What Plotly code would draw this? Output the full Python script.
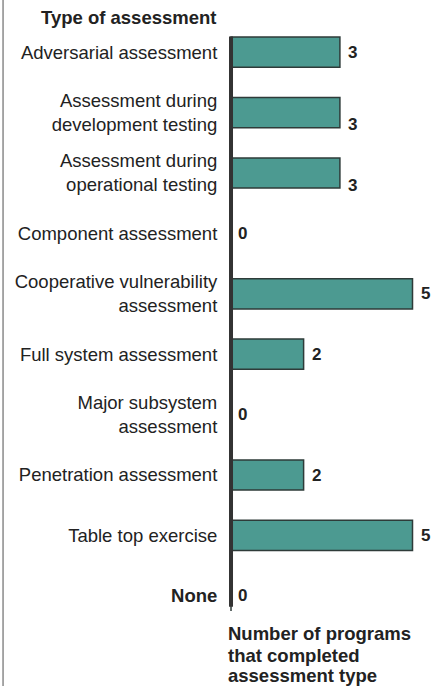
import plotly.graph_objects as go

CATEGORIES = [
    "Adversarial assessment",
    "Assessment during development testing",
    "Assessment during operational testing",
    "Component assessment",
    "Cooperative vulnerability assessment",
    "Full system assessment",
    "Major subsystem assessment",
    "Penetration assessment",
    "Table top exercise",
    "None",
]
TICK_LABELS = [
    "Adversarial assessment",
    "Assessment during<br>development testing",
    "Assessment during<br>operational testing",
    "Component assessment",
    "Cooperative vulnerability<br>assessment",
    "Full system assessment",
    "Major subsystem<br>assessment",
    "Penetration assessment",
    "Table top exercise",
    "<b>None</b>",
]
PROGRAM_COUNTS = [3, 3, 3, 0, 5, 2, 0, 2, 5, 0]
X_TITLE_LINES = ["Number of programs", "that completed", "assessment type"]

BAR_COLOR = "#4C9A91"
OUTLINE_COLOR = "#2E3B39"
TEXT_COLOR = "#222222"
FONT = "Liberation Sans, Arial, sans-serif"

# the value labels of these two rows sit on the second text line
LABEL_NUDGE = {
    "Assessment during development testing": -12,
    "Assessment during operational testing": -12,
}

fig = go.Figure(
    go.Bar(
        x=PROGRAM_COUNTS,
        y=CATEGORIES,
        orientation="h",
        marker=dict(color=BAR_COLOR, line=dict(color=OUTLINE_COLOR, width=1.5)),
        hoverinfo="skip",
    )
)

for cat, val in zip(CATEGORIES, PROGRAM_COUNTS):
    fig.add_annotation(
        x=val,
        y=cat,
        text=f"<b>{val}</b>",
        showarrow=False,
        xanchor="left",
        xshift=5 if val == 0 else 6,
        yshift=LABEL_NUDGE.get(cat, 0),
        font=dict(size=17, color=TEXT_COLOR, family=FONT),
    )

fig.add_annotation(
    xref="paper", yref="paper", x=-0.037, y=1.0, yanchor="bottom", xanchor="right",
    yshift=-8,
    text="<b>Type of assessment</b>", showarrow=False,
    font=dict(size=18.5, color=TEXT_COLOR, family=FONT),
)
# x-axis title, one annotation per line so the line spacing can be tighter
for i, line in enumerate(X_TITLE_LINES):
    fig.add_annotation(
        xref="paper", yref="paper", x=0.0, y=0.0, yanchor="top", xanchor="left",
        yshift=5 - 22 * i if i < 2 else 5 - 42,
        text=f"<b>{line}</b>", showarrow=False,
        font=dict(size=18.5, color=TEXT_COLOR, family=FONT),
    )

# vertical axis line
fig.add_shape(type="line", xref="x", yref="y", x0=0, x1=0, y0=-0.26, y1=9.18,
              line=dict(color="#333333", width=4))
# left frame edge
fig.add_shape(type="line", xref="paper", yref="paper", x0=-1.018, x1=-1.018, y0=-0.11, y1=1.05,
              line=dict(color="#8a8a8a", width=1.5))

fig.update_layout(
    width=445,
    height=686,
    margin=dict(l=226, r=0, t=22, b=60),
    paper_bgcolor="white",
    plot_bgcolor="white",
    showlegend=False,
    bargap=0.5,
    font=dict(family=FONT, color=TEXT_COLOR),
)
fig.update_xaxes(range=[-0.138, 5.895], visible=False)
fig.update_yaxes(
    autorange="reversed",
    tickmode="array",
    tickvals=CATEGORIES,
    ticktext=TICK_LABELS,
    tickfont=dict(size=18.5, color=TEXT_COLOR, family=FONT),
    showline=False,
    showgrid=False,
    ticks="outside",
    ticklen=4,
    tickcolor="rgba(0,0,0,0)",
)

# page body has a default 8px margin; drop it so the figure fills the window
fig.write_html(
    "out.html",
    config={"displayModeBar": False},
    post_script="document.body.style.margin='0px';",
)
